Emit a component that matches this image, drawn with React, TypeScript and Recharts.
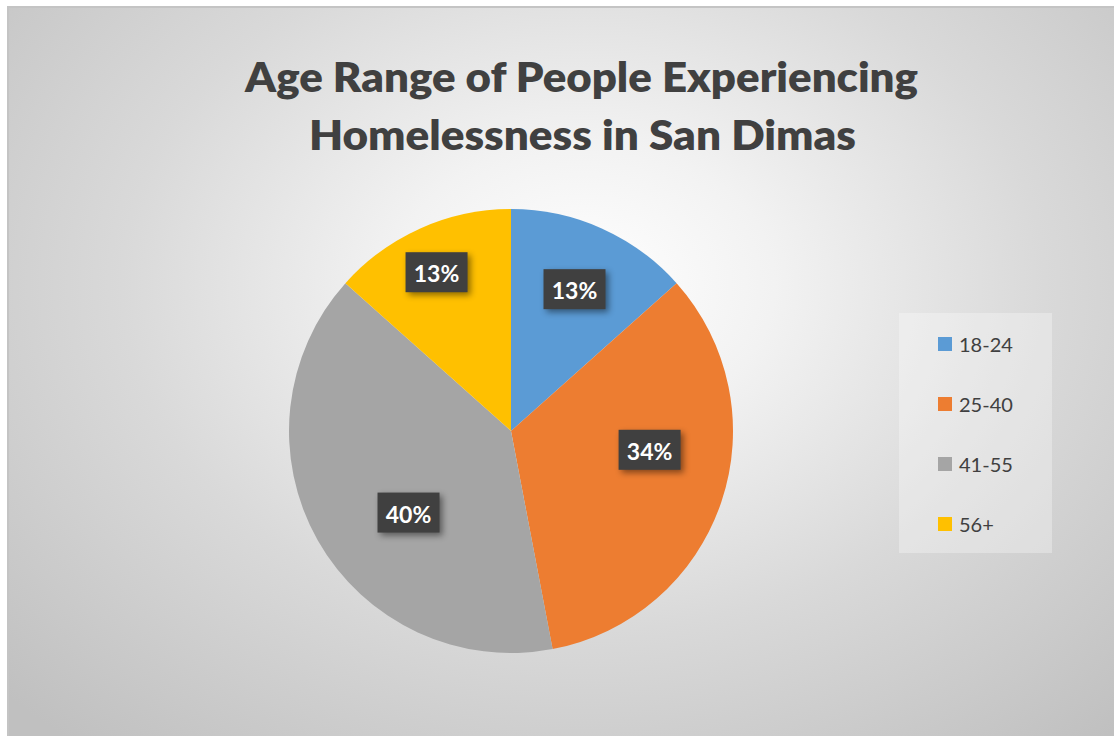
import { PieChart, Pie, Cell } from "recharts";

const AGE_GROUPS = ["18-24", "25-40", "41-55", "56+"];
const SHARES = [13.4, 33.6, 39.6, 13.4];
const SHARE_LABELS = ["13%", "34%", "40%", "13%"];
const COLORS = ["#5B9BD5", "#ED7D31", "#A5A5A5", "#FFC000"];

// Excel "best fit" label placement: radius fraction + clockwise nudge (deg)
const LABEL_RADIUS = [0.7, 0.63, 0.59, 0.79];
const LABEL_NUDGE = [0, -11, -9, -1];

const data = AGE_GROUPS.map((name, i) => ({ name, value: SHARES[i] }));

const RAD = Math.PI / 180;

function renderLabel(props: any) {
  const { cx, cy, midAngle, outerRadius, index } = props;
  const a = midAngle - LABEL_NUDGE[index];
  const r = outerRadius * LABEL_RADIUS[index];
  const x = cx + r * Math.cos(-a * RAD);
  const y = cy + r * Math.sin(-a * RAD);
  return (
    <g key={`lbl-${index}`}>
      <rect
        x={x - 31}
        y={y - 20}
        width={62}
        height={40}
        fill="#404040"
        style={{ filter: "drop-shadow(3px 3px 3px rgba(0,0,0,0.45))" }}
      />
      <text
        x={x}
        y={y + 1}
        fill="#ffffff"
        textAnchor="middle"
        dominantBaseline="central"
        fontFamily="Lato, 'Open Sans', sans-serif"
        fontWeight={700}
        fontSize={23}
      >
        {SHARE_LABELS[index]}
      </text>
    </g>
  );
}

export default function App() {
  return (
    <div style={{ position: "fixed", left: 0, top: 0, width: 1114, height: 736, background: "#ffffff" }}>
      <style>{`.recharts-pie-sectors { filter: drop-shadow(0 0 6px rgba(0,0,0,0.22)); }`}</style>
      <div
        style={{
          position: "absolute",
          left: 7,
          top: 6,
          width: 1107,
          height: 730,
          borderTop: "2px solid #c4c4c4",
          borderLeft: "2px solid #c4c4c4",
          boxSizing: "border-box",
          background:
            "radial-gradient(ellipse 72% 82% at 52% 38%, #ffffff 0%, #f2f2f2 24%, #d9d9d9 58%, #c0c0c0 100%)",
        }}
      />
      <svg width={1114} height={736} style={{ position: "absolute", left: 0, top: 0 }}>
        <text
          x={581.5}
          y={92}
          textAnchor="middle"
          fill="#404040"
          fontFamily="Lato, 'Open Sans', sans-serif"
          fontWeight={800}
          fontSize={42}
          textLength={673}
          lengthAdjust="spacingAndGlyphs"
        >
          Age Range of People Experiencing
        </text>
        <text
          x={582.5}
          y={150}
          textAnchor="middle"
          fill="#404040"
          fontFamily="Lato, 'Open Sans', sans-serif"
          fontWeight={800}
          fontSize={42}
          textLength={547}
          lengthAdjust="spacingAndGlyphs"
        >
          Homelessness in San Dimas
        </text>
      </svg>
      <div style={{ position: "absolute", left: 0, top: 0 }}>
        <PieChart width={1114} height={736} margin={{ top: 0, right: 0, bottom: 0, left: 0 }}>
          <Pie
            data={data}
            dataKey="value"
            nameKey="name"
            cx={511}
            cy={431}
            outerRadius={222}
            startAngle={90}
            endAngle={-270}
            stroke="none"
            label={renderLabel}
            labelLine={false}
            isAnimationActive={false}
          >
            {data.map((d, i) => (
              <Cell key={d.name} fill={COLORS[i]} />
            ))}
          </Pie>
        </PieChart>
      </div>
      <div
        style={{
          position: "absolute",
          left: 899,
          top: 313,
          width: 153,
          height: 240,
          background: "rgba(255,255,255,0.3)",
        }}
      >
        {AGE_GROUPS.map((g, i) => (
          <div
            key={g}
            style={{
              position: "absolute",
              left: 39,
              top: 19 + i * 60,
              height: 24,
              display: "flex",
              alignItems: "center",
              fontFamily: "Lato, 'Open Sans', sans-serif",
              fontSize: 20,
              color: "#404040",
              whiteSpace: "nowrap",
            }}
          >
            <span style={{ display: "inline-block", width: 14, height: 14, background: COLORS[i], marginRight: 7 }} />
            {g}
          </div>
        ))}
      </div>
    </div>
  );
}
